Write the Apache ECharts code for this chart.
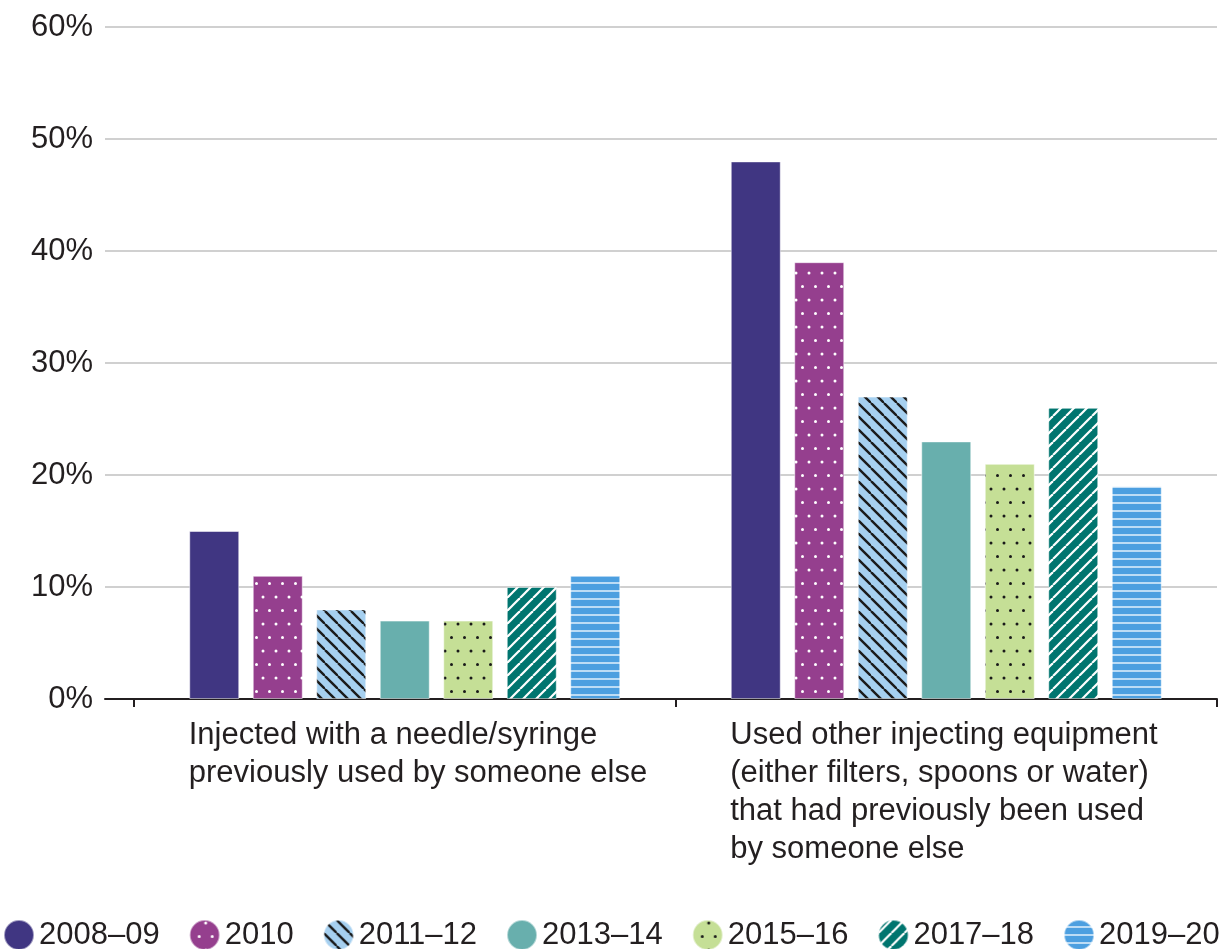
<!DOCTYPE html>
<html>
<head>
<meta charset="utf-8">
<script src="https://cdn.jsdelivr.net/npm/echarts@6/dist/echarts.min.js"></script>
<style>
  html, body { margin: 0; padding: 0; background: #fff; }
  #chart { width: 1225px; height: 949px; }
</style>
</head>
<body>
<div id="chart"></div>
<script>
// data
var categories = [
  'Injected with a needle/syringe\npreviously used by someone else',
  'Used other injecting equipment\n(either filters, spoons or water)\nthat had previously been used\nby someone else'
];
var years = ['2008–09', '2010', '2011–12', '2013–14', '2015–16', '2017–18', '2019–20'];
var v2008 = [15, 48];
var v2010 = [11, 39];
var v2011 = [8, 27];
var v2013 = [7, 23];
var v2015 = [7, 21];
var v2017 = [10, 26];
var v2019 = [11, 19];
var yTicks = [0, 10, 20, 30, 40, 50, 60];

var FONT = '"Liberation Sans", Arial, sans-serif';
var TXT = '#231f20';

function tile(bg, w, h, draw) {
  var c = document.createElement('canvas');
  c.width = w; c.height = h;
  var ctx = c.getContext('2d');
  ctx.fillStyle = bg;
  ctx.fillRect(0, 0, w, h);
  draw(ctx, w, h);
  return { image: c, repeat: 'repeat' };
}
function dots(col) {
  return function (ctx, w, h) {
    ctx.fillStyle = col;
    [[3, 3], [9.5, 16.5]].forEach(function (p) {
      ctx.beginPath();
      ctx.arc(p[0], p[1], 1.5, 0, Math.PI * 2);
      ctx.fill();
    });
  };
}
function hatch(col, back, lw) {
  return function (ctx, s) {
    ctx.strokeStyle = col;
    ctx.lineWidth = lw;
    for (var k = -1; k <= 1; k++) {
      ctx.beginPath();
      if (back) { ctx.moveTo(k * s, 0); ctx.lineTo(k * s + s, s); }
      else { ctx.moveTo(k * s, s); ctx.lineTo(k * s + s, 0); }
      ctx.stroke();
    }
  };
}

var fills = [
  '#403682',
  tile('#953f8e', 13, 27, dots('#ffffff')),
  tile('#a6d0f0', 13, 13, hatch('#1a1a1a', true, 2.4)),
  '#68afad',
  tile('#c5df96', 13, 27, dots('#1a1a1a')),
  tile('#00756f', 13, 13, hatch('#ffffff', false, 2.2)),
  tile('#4c9fe0', 8, 8, function (ctx) { ctx.fillStyle = '#bcdcf5'; ctx.fillRect(0, 6, 8, 2); })
];
var values = [v2008, v2010, v2011, v2013, v2015, v2017, v2019];

var series = years.map(function (y, i) {
  return {
    name: y,
    type: 'bar',
    xAxisIndex: 1,
    yAxisIndex: 1,
    barWidth: 50,
    barGap: '27%',
    itemStyle: { color: fills[i], borderColor: 'rgba(255,255,255,0.5)', borderWidth: 1 },
    data: values[i]
  };
});

var chart = echarts.init(document.getElementById('chart'));
chart.setOption({
  animation: false,
  textStyle: { fontFamily: FONT, color: TXT },
  grid: [
    { left: 105, right: 8, top: 27, bottom: 250 },
    { left: 134, right: 8, top: 27, bottom: 250 }
  ],
  legend: {
    left: 3,
    top: 919,
    padding: 0,
    width: 1222,
    icon: 'circle',
    itemWidth: 30,
    itemHeight: 30,
    itemGap: 29,
    textStyle: { fontSize: 31, color: TXT, fontFamily: FONT },
    data: years
  },
  xAxis: [
    {
      type: 'category',
      gridIndex: 0,
      data: ['', ''],
      axisLine: { lineStyle: { color: TXT, width: 2 } },
      axisTick: { show: false },
      axisLabel: { show: false }
    },
    {
      type: 'category',
      gridIndex: 1,
      data: categories,
      axisLine: { show: false },
      axisTick: {
        show: true, length: 8, interval: 0,
        lineStyle: { color: TXT, width: 2 }
      },
      axisLabel: {
        interval: 0,
        margin: 17,
        formatter: function (v) {
          return v.split('\n').map(function (l) { return '{a|' + l + '}'; }).join('\n');
        },
        rich: {
          a: { fontSize: 31, lineHeight: 38, width: 432, align: 'left', color: TXT, fontFamily: FONT }
        }
      }
    }
  ],
  yAxis: [
    {
      type: 'value',
      gridIndex: 0,
      min: yTicks[0],
      max: yTicks[yTicks.length - 1],
      interval: 10,
      axisLine: { show: false },
      axisTick: { show: false },
      axisLabel: { formatter: '{value}%', fontSize: 31, color: TXT, margin: 12 },
      splitLine: { lineStyle: { color: '#c0c0c0', width: 1.5 } }
    },
    {
      type: 'value',
      gridIndex: 1,
      min: yTicks[0],
      max: yTicks[yTicks.length - 1],
      interval: 10,
      show: false,
      splitLine: { show: false }
    }
  ],
  series: series
});
</script>
</body>
</html>
